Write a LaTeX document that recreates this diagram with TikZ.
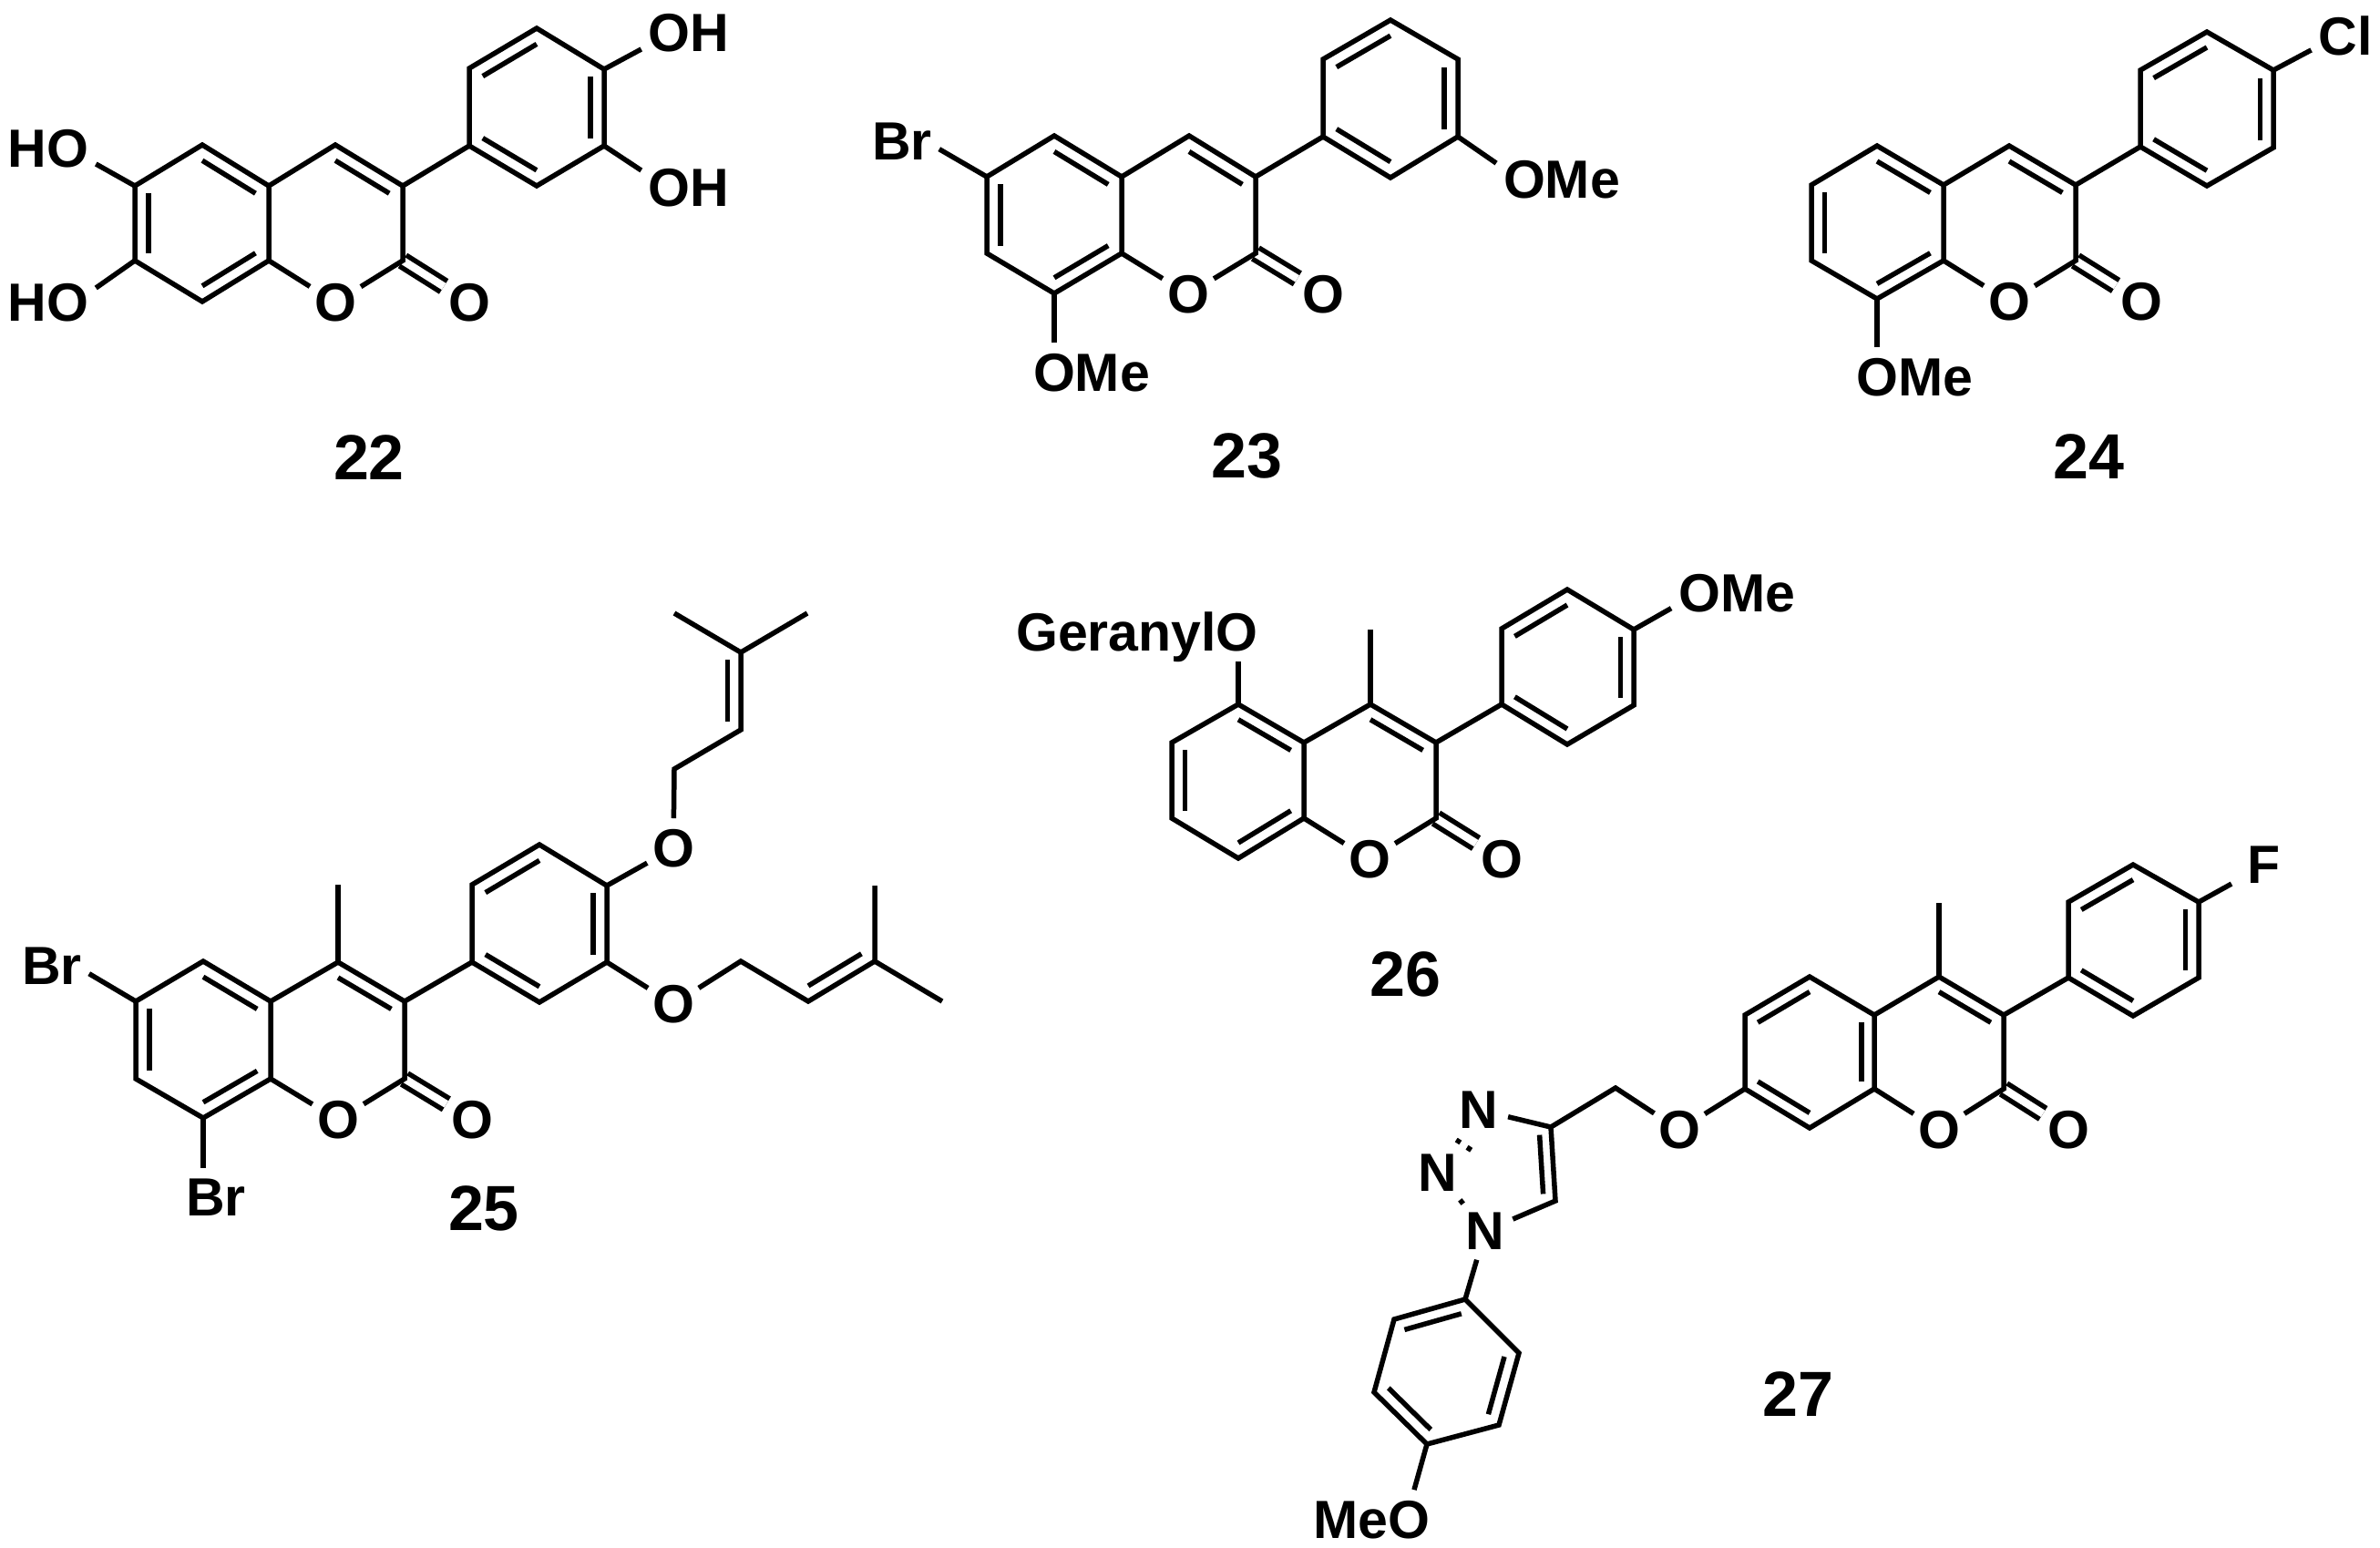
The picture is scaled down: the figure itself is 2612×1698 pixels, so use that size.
\documentclass[tikz,border=0pt]{standalone}
\usepackage{fontspec}
\setmainfont{Liberation Sans}
\usetikzlibrary{calc}
\tikzset{
	atomO/.style    = {shape=circle, inner sep=0pt, outer sep=0pt, minimum size=66, yshift=-2,
		font=\fontsize{59}{60}\selectfont\bfseries},
	group/.style    = {shape=rectangle, inner xsep=8, inner ysep=12, outer sep=0pt, yshift=-2,
		font=\fontsize{59}{60}\selectfont\bfseries},
	compound/.style = {font=\fontsize{70}{72}\selectfont\bfseries},
	carbonyl/.style = {double, double distance=8.5},
}
%inner line of a double bond: end points pulled towards the centre of the ring
\newcommand{\innerbond}[3]{\draw ($(#1)!.2!(#3)$) -- ($(#2)!.2!(#3)$);}
%the bonds which all of the molecules share
\newcommand{\coumarinbonds}[1]{
	\draw[carbonyl] (C2_#1) -- (Ox_#1);
	\draw (C4a_#1) -- (C5_#1) -- (C6_#1) -- (C7_#1) -- (C8_#1) -- (C8a_#1) -- cycle;
	\draw (C8a_#1) -- (O1_#1) -- (C2_#1) -- (C3_#1) -- (C4_#1) -- (C4a_#1);
	\draw (C3_#1) -- (Ar1_#1);
	\draw (Ar1_#1) -- (Ar2_#1) -- (Ar3_#1) -- (Ar4_#1) -- (Ar5_#1) -- (Ar6_#1) -- cycle;
	\innerbond{C3_#1}{C4_#1}{RB_#1}
	\innerbond{Ar1_#1}{Ar2_#1}{RC_#1}
	\innerbond{Ar3_#1}{Ar4_#1}{RC_#1}
	\innerbond{Ar5_#1}{Ar6_#1}{RC_#1}
}
\newcommand{\benzobonds}[1]{
	\innerbond{C5_#1}{C4a_#1}{RA_#1}
	\innerbond{C6_#1}{C7_#1}{RA_#1}
	\innerbond{C8_#1}{C8a_#1}{RA_#1}
}

\begin{document}
\begin{tikzpicture}[ x=1pt, y=-1pt,                  %<--one unit is one pixel of the page
					line width=5.5,                  %<--setting line style
					line join=miter ]

	\useasboundingbox (0,0) rectangle (2612,1698);

	\draw%-----------------------------------------------------------------------------------------
	%Drawing Molecule 22:
	node[shape=coordinate][](C5_22) at (222,159){}
	node[shape=coordinate][](C6_22) at (148,204){}
	node[shape=coordinate][](C7_22) at (148,286){}
	node[shape=coordinate][](C8_22) at (222,331){}
	node[shape=coordinate][](C8a_22) at (295,286){}
	node[shape=coordinate][](C4a_22) at (295,204){}
	node[shape=coordinate][](C4_22) at (368,159){}
	node[shape=coordinate][](C3_22) at (442,204){}
	node[shape=coordinate][](C2_22) at (442,286){}
	node[shape=coordinate][](Ar1_22) at (515,160){}
	node[shape=coordinate][](Ar2_22) at (589,204){}
	node[shape=coordinate][](Ar3_22) at (663,160){}
	node[shape=coordinate][](Ar4_22) at (663,76){}
	node[shape=coordinate][](Ar5_22) at (589,31){}
	node[shape=coordinate][](Ar6_22) at (515,75){}
	node[shape=coordinate][](RA_22) at (222,245){}
	node[shape=coordinate][](RB_22) at (368,245){}
	node[shape=coordinate][](RC_22) at (589,118){}
	node(O1_22) at (368,330) [atomO] {O}
	node(Ox_22) at (515,330) [atomO] {O}
	node(OHa_22) at (756,34) [group] {OH}
	node(OHb_22) at (756,204) [group] {OH}
	node(HOa_22) at (53,161) [group] {HO}
	node(HOb_22) at (53,330) [group] {HO}
	node(label22) at (405,502) [compound] {22}

	%Drawing Molecule 23:
	node[shape=coordinate][](C5_23) at (1157,149){}
	node[shape=coordinate][](C6_23) at (1083,194){}
	node[shape=coordinate][](C7_23) at (1083,278){}
	node[shape=coordinate][](C8_23) at (1157,322){}
	node[shape=coordinate][](C8a_23) at (1231,278){}
	node[shape=coordinate][](C4a_23) at (1231,194){}
	node[shape=coordinate][](C4_23) at (1305,149){}
	node[shape=coordinate][](C3_23) at (1378,194){}
	node[shape=coordinate][](C2_23) at (1378,278){}
	node[shape=coordinate][](Ar1_23) at (1452,150){}
	node[shape=coordinate][](Ar2_23) at (1526,195){}
	node[shape=coordinate][](Ar3_23) at (1600,150){}
	node[shape=coordinate][](Ar4_23) at (1600,65){}
	node[shape=coordinate][](Ar5_23) at (1526,22){}
	node[shape=coordinate][](Ar6_23) at (1452,65){}
	node[shape=coordinate][](RA_23) at (1157,236){}
	node[shape=coordinate][](RB_23) at (1305,236){}
	node[shape=coordinate][](RC_23) at (1526,108){}
	node(O1_23) at (1304,321) [atomO] {O}
	node(Ox_23) at (1452,321) [atomO] {O}
	node(Br_23) at (990,153) [group] {Br}
	node(OMea_23) at (1198,407) [group] {OMe}
	node(OMeb_23) at (1714,195) [group] {OMe}
	node(label23) at (1368,500) [compound] {23}

	%Drawing Molecule 24:
	node[shape=coordinate][](C5_24) at (2060,160){}
	node[shape=coordinate][](C6_24) at (1988,203){}
	node[shape=coordinate][](C7_24) at (1988,286){}
	node[shape=coordinate][](C8_24) at (2060,328){}
	node[shape=coordinate][](C8a_24) at (2133,286){}
	node[shape=coordinate][](C4a_24) at (2133,203){}
	node[shape=coordinate][](C4_24) at (2205,160){}
	node[shape=coordinate][](C3_24) at (2278,203){}
	node[shape=coordinate][](C2_24) at (2278,286){}
	node[shape=coordinate][](Ar1_24) at (2349,161){}
	node[shape=coordinate][](Ar2_24) at (2422,204){}
	node[shape=coordinate][](Ar3_24) at (2495,162){}
	node[shape=coordinate][](Ar4_24) at (2495,77){}
	node[shape=coordinate][](Ar5_24) at (2422,35){}
	node[shape=coordinate][](Ar6_24) at (2349,77){}
	node[shape=coordinate][](RA_24) at (2060,245){}
	node[shape=coordinate][](RB_24) at (2205,245){}
	node[shape=coordinate][](RC_24) at (2422,120){}
	node(O1_24) at (2205,329) [atomO] {O}
	node(Ox_24) at (2350,329) [atomO] {O}
	node(Cl_24) at (2574,37) [group] {Cl}
	node(OMe_24) at (2101,412) [group] {OMe}
	node(label24) at (2292,501) [compound] {24}

	%Drawing Molecule 25:
	node[shape=coordinate][](C5_25) at (223,1055){}
	node[shape=coordinate][](C6_25) at (149,1099){}
	node[shape=coordinate][](C7_25) at (149,1184){}
	node[shape=coordinate][](C8_25) at (223,1227){}
	node[shape=coordinate][](C8a_25) at (297,1184){}
	node[shape=coordinate][](C4a_25) at (297,1099){}
	node[shape=coordinate][](C4_25) at (371,1056){}
	node[shape=coordinate][](Me_25) at (371,971){}
	node[shape=coordinate][](C3_25) at (444,1099){}
	node[shape=coordinate][](C2_25) at (444,1184){}
	node[shape=coordinate][](Ar1_25) at (518,1056){}
	node[shape=coordinate][](Ar2_25) at (592,1100){}
	node[shape=coordinate][](Ar3_25) at (666,1056){}
	node[shape=coordinate][](Ar4_25) at (666,972){}
	node[shape=coordinate][](Ar5_25) at (592,927){}
	node[shape=coordinate][](Ar6_25) at (518,971){}
	node[shape=coordinate][](RA_25) at (223,1141){}
	node[shape=coordinate][](RB_25) at (371,1141){}
	node[shape=coordinate][](RC_25) at (592,1014){}
	node(O1_25) at (371,1227) [atomO] {O}
	node(Ox_25) at (518,1227) [atomO] {O}
	node(Bra_25) at (57,1058) [group] {Br}
	node(Brb_25) at (237,1312) [group] {Br}
	node(label25) at (531,1326) [compound] {25}
	%the two side chains
	node(Oa_25) at (739,929) [atomO] {O}
	node[shape=coordinate][](Ca1_25) at (740,844){}
	node[shape=coordinate][](Ca2_25) at (813,801){}
	node[shape=coordinate][](Ca3_25) at (813,716){}
	node[shape=coordinate][](Ca4_25) at (740,673){}
	node[shape=coordinate][](Ca5_25) at (886,673){}
	node[shape=coordinate][](RCa_25) at (740,758){}
	node(Ob_25) at (739,1100) [atomO] {O}
	node[shape=coordinate][](Cb1_25) at (813,1055){}
	node[shape=coordinate][](Cb2_25) at (887,1099){}
	node[shape=coordinate][](Cb3_25) at (960,1055){}
	node[shape=coordinate][](Cb4_25) at (960,972){}
	node[shape=coordinate][](Cb5_25) at (1034,1099){}
	node[shape=coordinate][](RCb_25) at (887,1014){}

	%Drawing Molecule 26:
	node[shape=coordinate][](C5_26) at (1359,773){}
	node[shape=coordinate][](C6_26) at (1286,815){}
	node[shape=coordinate][](C7_26) at (1286,898){}
	node[shape=coordinate][](C8_26) at (1359,942){}
	node[shape=coordinate][](C8a_26) at (1431,898){}
	node[shape=coordinate][](C4a_26) at (1431,815){}
	node[shape=coordinate][](C4_26) at (1504,773){}
	node[shape=coordinate][](Me_26) at (1504,691){}
	node[shape=coordinate][](C3_26) at (1576,815){}
	node[shape=coordinate][](C2_26) at (1576,898){}
	node[shape=coordinate][](Ar1_26) at (1648,773){}
	node[shape=coordinate][](Ar2_26) at (1720,817){}
	node[shape=coordinate][](Ar3_26) at (1793,774){}
	node[shape=coordinate][](Ar4_26) at (1793,691){}
	node[shape=coordinate][](Ar5_26) at (1720,647){}
	node[shape=coordinate][](Ar6_26) at (1648,690){}
	node[shape=coordinate][](RA_26) at (1359,857){}
	node[shape=coordinate][](RB_26) at (1504,857){}
	node[shape=coordinate][](RC_26) at (1720,732){}
	node(O1_26) at (1503,941) [atomO] {O}
	node(Ox_26) at (1648,941) [atomO] {O}
	node(OMe_26) at (1906,649) [group] {OMe}
	node(Ger_26) at (1248,691) [group, inner ysep=12, text depth=0pt] {GeranylO}
	node(label26) at (1542,1069) [compound] {26}

	%Drawing Molecule 27:
	node[shape=coordinate][](C5_27) at (1986,1072){}
	node[shape=coordinate][](C6_27) at (1915,1114){}
	node[shape=coordinate][](C7_27) at (1915,1195){}
	node[shape=coordinate][](C8_27) at (1986,1238){}
	node[shape=coordinate][](C8a_27) at (2057,1195){}
	node[shape=coordinate][](C4a_27) at (2057,1114){}
	node[shape=coordinate][](C4_27) at (2128,1072){}
	node[shape=coordinate][](Me_27) at (2128,991){}
	node[shape=coordinate][](C3_27) at (2199,1114){}
	node[shape=coordinate][](C2_27) at (2199,1195){}
	node[shape=coordinate][](Ar1_27) at (2270,1073){}
	node[shape=coordinate][](Ar2_27) at (2341,1115){}
	node[shape=coordinate][](Ar3_27) at (2413,1073){}
	node[shape=coordinate][](Ar4_27) at (2413,990){}
	node[shape=coordinate][](Ar5_27) at (2341,949){}
	node[shape=coordinate][](Ar6_27) at (2270,990){}
	node[shape=coordinate][](RA_27) at (1986,1155){}
	node[shape=coordinate][](RB_27) at (2128,1155){}
	node[shape=coordinate][](RC_27) at (2341,1032){}
	node(O1_27) at (2128,1238) [atomO] {O}
	node(Ox_27) at (2270,1238) [atomO] {O}
	node(F_27) at (2484,947) [group, inner xsep=17] {F}
	node(label27) at (1973,1530) [compound] {27}
	%the linker and the triazole
	node(Ol_27) at (1843,1238) [atomO] {O}
	node[shape=coordinate][](CH_27) at (1773,1194){}
	node[shape=coordinate][](T4_27) at (1702,1237){}
	node[shape=coordinate][](T5_27) at (1707,1318){}
	node(N1_27) at (1630,1349) [atomO] {N}
	node(N2_27) at (1578,1285) [atomO] {N}
	node(N3_27) at (1623,1216) [atomO] {N}
	node[shape=coordinate][](RT_27) at (1640,1280){}
	%the lower ring
	node[shape=coordinate][](Bz1_27) at (1608,1426){}
	node[shape=coordinate][](Bz2_27) at (1667,1485){}
	node[shape=coordinate][](Bz3_27) at (1645,1564){}
	node[shape=coordinate][](Bz4_27) at (1566,1585){}
	node[shape=coordinate][](Bz5_27) at (1508,1528){}
	node[shape=coordinate][](Bz6_27) at (1530,1448){}
	node[shape=coordinate][](RD_27) at (1587,1505){}
	node(MeO_27) at (1505,1666) [group] {MeO}
	;%---------------------------------------------------------------------------------------------

	%Joining Molecule 22
	\coumarinbonds{22}
	\benzobonds{22}
	\draw (Ar4_22) -- (OHa_22.199);
	\draw (Ar3_22) -- (OHb_22.160);
	\draw (C6_22) -- (HOa_22.-18);
	\draw (C7_22) -- (HOb_22.17);

	%Joining Molecule 23
	\coumarinbonds{23}
	\benzobonds{23}
	\draw (C6_23) -- (Br_23.-12);
	\draw (C8_23) -- (C8_23 |- OMea_23.north);
	\draw (Ar3_23) -- (OMeb_23.166);

	%Joining Molecule 24
	\coumarinbonds{24}
	\benzobonds{24}
	\draw (Ar4_24) -- (Cl_24.203);
	\draw (C8_24) -- (C8_24 |- OMe_24.north);

	%Joining Molecule 25
	\coumarinbonds{25}
	\benzobonds{25}
	\draw (C4_25) -- (Me_25);
	\draw (C6_25) -- (Bra_25.-12);
	\draw (C8_25) -- (C8_25 |- Brb_25.north);
	\draw (Ar4_25) -- (Oa_25) -- (Ca1_25) -- (Ca2_25) -- (Ca3_25) -- (Ca4_25);
	\draw (Ca3_25) -- (Ca5_25);
	\innerbond{Ca2_25}{Ca3_25}{RCa_25}
	\draw (Ar3_25) -- (Ob_25) -- (Cb1_25) -- (Cb2_25) -- (Cb3_25) -- (Cb4_25);
	\draw (Cb3_25) -- (Cb5_25);
	\innerbond{Cb2_25}{Cb3_25}{RCb_25}

	%Joining Molecule 26
	\coumarinbonds{26}
	\benzobonds{26}
	\draw (C4_26) -- (Me_26);
	\draw (Ar4_26) -- (OMe_26.193);
	\draw (C5_26) -- (C5_26 |- Ger_26.south);

	%Joining Molecule 27
	\coumarinbonds{27}
	\innerbond{C5_27}{C6_27}{RA_27}
	\innerbond{C4a_27}{C8a_27}{RA_27}
	\innerbond{C7_27}{C8_27}{RA_27}
	\draw (C4_27) -- (Me_27);
	\draw (Ar4_27) -- (F_27.211);
	\draw (C7_27) -- (Ol_27) -- (CH_27) -- (T4_27) -- (T5_27) -- (N1_27);
	\draw (T4_27) -- (N3_27);
	\innerbond{T4_27}{T5_27}{RT_27}
	%the nitrogens are so near to each other that only dots are left of these bonds
	\draw[shorten >=5.5, shorten <=5.5] (N3_27) -- (N2_27);
	\draw[shorten >=5.5, shorten <=5.5] (N2_27) -- (N1_27);
	\draw[shorten >=26, shorten <=26] ($(N3_27)!.3!(RT_27)$) -- ($(N2_27)!.3!(RT_27)$);
	\draw (N1_27) -- (Bz1_27);
	\draw (Bz1_27) -- (Bz2_27) -- (Bz3_27) -- (Bz4_27) -- (Bz5_27) -- (Bz6_27) -- cycle;
	\innerbond{Bz1_27}{Bz6_27}{RD_27}
	\innerbond{Bz2_27}{Bz3_27}{RD_27}
	\innerbond{Bz4_27}{Bz5_27}{RD_27}
	\draw (Bz4_27) -- (MeO_27.35);

\end{tikzpicture}
\end{document}
